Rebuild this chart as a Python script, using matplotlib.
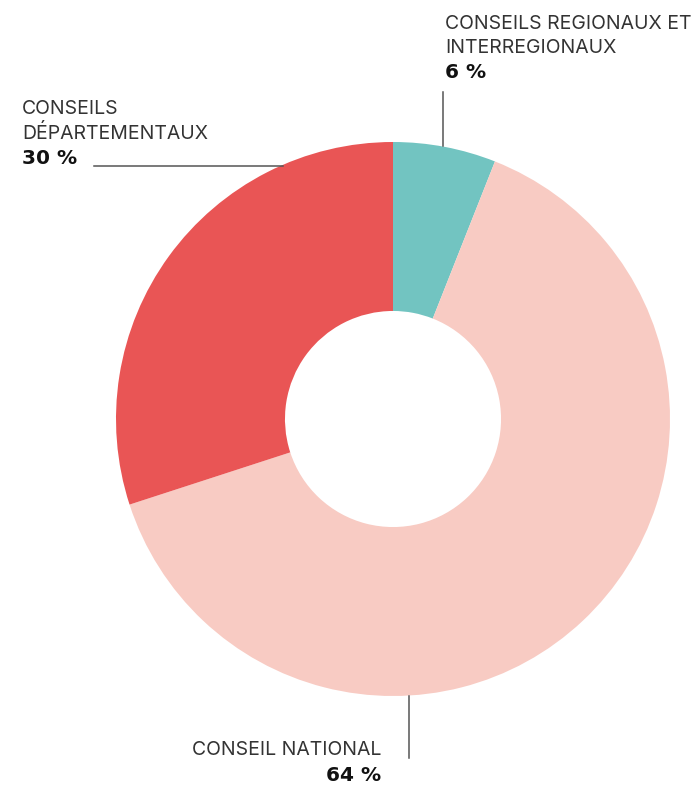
import matplotlib
matplotlib.use("Agg")
import matplotlib.pyplot as plt

categories = ["CONSEILS REGIONAUX ET\nINTERREGIONAUX", "CONSEIL NATIONAL", "CONSEILS\nDÉPARTEMENTAUX"]
values = [6, 64, 30]
value_labels = ["6 %", "64 %", "30 %"]
colors = ["#72C4C1", "#F8CBC3", "#E95555"]

W, H = 694, 785
fig = plt.figure(figsize=(W / 100, H / 100), dpi=100)
ax = fig.add_axes([0, 0, 1, 1])

cx, cy, R = 393, H - 419, 277
ax.pie(values, colors=colors, startangle=90, counterclock=False,
       center=(cx, cy), radius=R, frame=True,
       wedgeprops=dict(width=R * 0.61, linewidth=0))
ax.set_xlim(0, W)
ax.set_ylim(0, H)
ax.set_aspect("equal")
ax.axis("off")

lab_font = dict(family="Inter", fontsize=14, color="#333333", fontweight="normal")
num_font = dict(family="DejaVu Sans", fontsize=14.5, color="#111111", fontweight="bold")
line_kw = dict(color="#555555", linewidth=1.1)

def Y(y):
    return H - y

# teal label (top right)
ax.text(445, Y(29), categories[0].split("\n")[0], ha="left", va="baseline", **lab_font)
ax.text(445, Y(53), categories[0].split("\n")[1], ha="left", va="baseline", **lab_font)
ax.text(445, Y(78), value_labels[0], ha="left", va="baseline", **num_font)
ax.plot([443, 443], [Y(92), Y(146)], **line_kw)

# red label (left)
ax.text(22, Y(114), categories[2].split("\n")[0], ha="left", va="baseline", **lab_font)
ax.text(22, Y(139), categories[2].split("\n")[1], ha="left", va="baseline", **lab_font)
ax.text(22, Y(164), value_labels[2], ha="left", va="baseline", **num_font)
ax.plot([94, 283], [Y(166), Y(166)], **line_kw)

# pink label (bottom)
ax.text(381, Y(755), categories[1], ha="right", va="baseline", **lab_font)
ax.text(381, Y(781), value_labels[1], ha="right", va="baseline", **num_font)
ax.plot([409, 409], [Y(696), Y(758)], **line_kw)

fig.savefig("out.png", dpi=100)
